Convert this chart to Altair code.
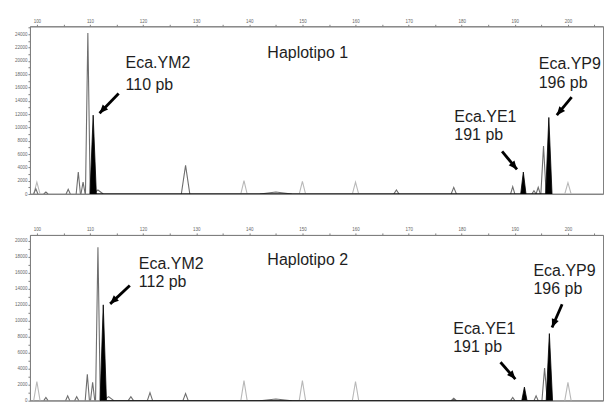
import altair as alt
import pandas as pd

BP_DOMAIN = [98.7, 206.6]
X_TICKS = list(range(100, 210, 5))

# ---------------- Haplotipo 1 ----------------
h1_dark_bp = [99.8, 101.7, 105.9, 107.8, 108.7, 109.6, 111.5, 128.0, 145.0, 167.7, 178.5, 189.6, 193.6, 194.4, 195.4]
h1_dark_rfu = [800, 300, 700, 3300, 1800, 24200, 600, 4300, 300, 600, 1000, 1100, 500, 1000, 7200]
h1_dark_hw = [0.4, 0.4, 0.4, 0.4, 0.4, 0.45, 1.0, 0.8, 3.0, 0.5, 0.5, 0.4, 0.4, 0.4, 0.5]
h1_black_bp = [110.6, 191.6, 196.4]
h1_black_rfu = [11850, 3300, 11500]
h1_black_hw = [0.6, 0.5, 0.6]
h1_light_bp = [100.0, 139.0, 150.0, 160.0, 200.0]
h1_light_rfu = [1800, 2000, 1900, 1800, 1700]
h1_light_hw = [0.6, 0.6, 0.6, 0.6, 0.6]

h1_label_text = ["Haplotipo 1", "Eca.YM2", "110 pb", "Eca.YE1", "191 pb", "Eca.YP9", "196 pb"]
h1_label_bp = [143.4, 116.7, 116.7, 178.6, 178.6, 194.5, 194.5]
h1_label_rfu = [21180, 19700, 16440, 11550, 8890, 19550, 16740]
h1_arrow_bp = [115.4, 187.6, 200.7]
h1_arrow_rfu = [15100, 6410, 14560]
h1_arrow_bp2 = [111.8, 190.4, 197.9]
h1_arrow_rfu2 = [12140, 3700, 11850]
h1_arrow_angle = [223.5, 140.7, 219.3]
H1_MAX = 25200

# ---------------- Haplotipo 2 ----------------
h2_dark_bp = [101.7, 105.8, 107.5, 109.5, 110.5, 111.5, 113.5, 117.7, 121.3, 128.0, 145.0, 178.5, 189.6, 194.0, 195.6]
h2_dark_rfu = [400, 600, 500, 3300, 2300, 19200, 500, 500, 1000, 900, 200, 300, 400, 600, 4100]
h2_dark_hw = [0.4, 0.4, 0.4, 0.4, 0.4, 0.45, 1.0, 0.5, 0.5, 0.5, 3.0, 0.5, 0.4, 0.4, 0.5]
h2_black_bp = [112.5, 191.8, 196.5]
h2_black_rfu = [12000, 1700, 8400]
h2_black_hw = [0.6, 0.5, 0.6]
h2_light_bp = [100.0, 139.0, 150.0, 160.0, 200.0]
h2_light_rfu = [2400, 2500, 2500, 2400, 2300]
h2_light_hw = [0.6, 0.6, 0.6, 0.6, 0.6]

h2_label_text = ["Haplotipo 2", "Eca.YM2", "112 pb", "Eca.YE1", "191 pb", "Eca.YP9", "196 pb"]
h2_label_bp = [143.4, 119.2, 119.2, 178.4, 178.4, 193.5, 193.5]
h2_label_rfu = [17660, 17050, 14820, 8970, 6750, 16240, 14020]
h2_arrow_bp = [117.5, 187.3, 198.9]
h2_arrow_rfu = [14420, 4810, 12080]
h2_arrow_bp2 = [113.8, 190.1, 197.0]
h2_arrow_rfu2 = [12120, 2700, 9170]
h2_arrow_angle = [226.5, 139.2, 202.6]
H2_MAX = 20750


def peak_rows(tag, pos, rfu, hw):
    rows = []
    for i, (p, h, w) in enumerate(zip(pos, rfu, hw)):
        pid = f"{tag}{i}"
        rows.append({"id": pid, "bp": p - w, "rfu": 0})
        rows.append({"id": pid, "bp": p, "rfu": h})
        rows.append({"id": pid, "bp": p + w, "rfu": 0})
    return pd.DataFrame(rows)


ARROW_PATH = "M0,0L0.65,1.5L-0.65,1.5Z"


def panel(dark, black, light, labels, arrows, heads, ymax, height):
    x = alt.X("bp:Q", title=None,
              scale=alt.Scale(domain=BP_DOMAIN, nice=False, zero=False),
              axis=alt.Axis(orient="top", values=X_TICKS, format="d",
                            labelExpr="datum.value % 10 === 0 ? datum.label : ''",
                            labelFontSize=4.5, labelPadding=1, tickSize=2,
                            labelOverlap=False,
                            minExtent=17, maxExtent=17, grid=False))
    y = alt.Y("rfu:Q", title=None, stack=None,
              scale=alt.Scale(domain=[0, ymax], nice=False),
              axis=alt.Axis(values=list(range(0, ymax, 1000)), format="d",
                            labelExpr="datum.value % 2000 === 0 ? datum.label : ''",
                            labelFontSize=4.5, labelPadding=1, tickSize=2,
                            labelOverlap=False,
                            minExtent=21, maxExtent=21, grid=False))

    base_df = pd.DataFrame({"rfu": [0]})
    baseline = alt.Chart(base_df).mark_rule(color="#888888", strokeWidth=1).encode(y=y)

    light_l = alt.Chart(light).mark_line(color="#b8b8b8", strokeWidth=1.1, clip=True).encode(
        x=x, y=y, detail="id:N", order="bp:Q")
    dark_l = alt.Chart(dark).mark_line(color="#6e6e6e", strokeWidth=1.1, clip=True).encode(
        x=x, y=y, detail="id:N", order="bp:Q")
    black_a = alt.Chart(black).mark_area(color="#000000", stroke="#000000", strokeWidth=0.8,
                                         opacity=1, orient="vertical", clip=True).encode(
        x=x, y=y)

    text = alt.Chart(labels).mark_text(align="left", baseline="middle", fontSize=16,
                                       font="Liberation Sans", color="#1e1e1e").encode(
        x=x, y=y, text="text:N")
    shaft = alt.Chart(arrows).mark_rule(color="#000000", strokeWidth=2.8).encode(
        x=x, y=y, x2=alt.X2("bp2:Q"), y2=alt.Y2("rfu2:Q"))
    head = alt.Chart(heads).mark_point(shape=ARROW_PATH, filled=True, color="#000000",
                                       size=130, opacity=1).encode(
        x=x, y=y, angle=alt.Angle("angle:Q", scale=None))

    return alt.layer(baseline, light_l, dark_l, black_a, shaft, head, text).properties(
        width=574, height=height)


p1 = panel(peak_rows("d", h1_dark_bp, h1_dark_rfu, h1_dark_hw),
           peak_rows("b", h1_black_bp, h1_black_rfu, h1_black_hw),
           peak_rows("l", h1_light_bp, h1_light_rfu, h1_light_hw),
           pd.DataFrame({"text": h1_label_text, "bp": h1_label_bp, "rfu": h1_label_rfu}),
           pd.DataFrame({"bp": h1_arrow_bp, "rfu": h1_arrow_rfu, "bp2": h1_arrow_bp2,
                         "rfu2": h1_arrow_rfu2}),
           pd.DataFrame({"bp": h1_arrow_bp2, "rfu": h1_arrow_rfu2, "angle": h1_arrow_angle}),
           H1_MAX, 168)
p2 = panel(peak_rows("d", h2_dark_bp, h2_dark_rfu, h2_dark_hw),
           peak_rows("b", h2_black_bp, h2_black_rfu, h2_black_hw),
           peak_rows("l", h2_light_bp, h2_light_rfu, h2_light_hw),
           pd.DataFrame({"text": h2_label_text, "bp": h2_label_bp, "rfu": h2_label_rfu}),
           pd.DataFrame({"bp": h2_arrow_bp, "rfu": h2_arrow_rfu, "bp2": h2_arrow_bp2,
                         "rfu2": h2_arrow_rfu2}),
           pd.DataFrame({"bp": h2_arrow_bp2, "rfu": h2_arrow_rfu2, "angle": h2_arrow_angle}),
           H2_MAX, 166)

chart = alt.vconcat(p1, p2, spacing=21).properties(
    padding={"left": 0, "top": 0, "right": 0, "bottom": 0},
    background="#ffffff",
).configure_view(stroke="#808080", strokeWidth=1).configure_axis(
    domainColor="#808080", tickColor="#808080", labelColor="#666666",
    labelFont="Liberation Sans",
)

chart.save("out.html", embed_options={"renderer": "svg", "actions": False})
